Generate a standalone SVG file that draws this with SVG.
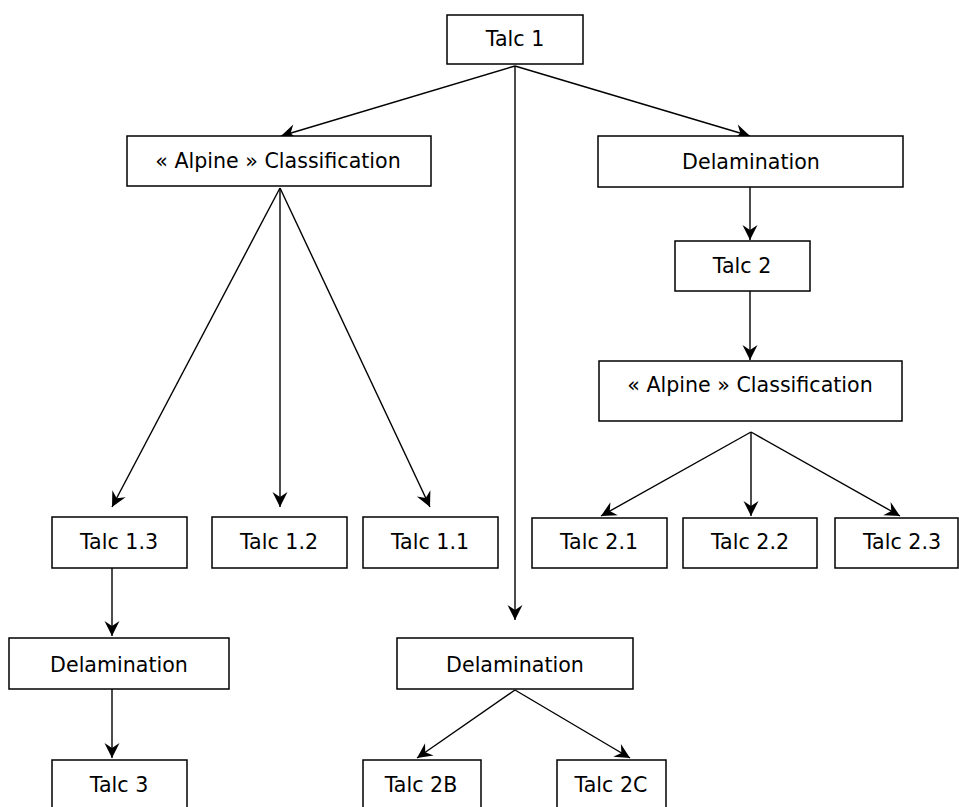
<svg xmlns="http://www.w3.org/2000/svg" width="959" height="807" viewBox="0 0 959 807">
<style>
.box{fill:#fff;stroke:#000;stroke-width:1.5}
.lbl{font-family:"DejaVu Sans","Verdana",sans-serif;font-size:20.6px;fill:#000;text-anchor:middle}
.edge{stroke:#000;stroke-width:1.4;fill:none;marker-end:url(#ah)}
</style>
<defs>
<marker id="ah" markerUnits="userSpaceOnUse" markerWidth="18" markerHeight="18" viewBox="-16 -9 18 18" refX="0" refY="0" orient="auto">
<path d="M0,0 L-15,-7.5 L-10,0 L-15,7.5 Z" fill="#000"/>
</marker>
</defs>
<rect width="959" height="807" fill="#fff"/>
<g id="connectors">
<line class="edge" x1="515" y1="66" x2="281" y2="136"/>
<line class="edge" x1="515" y1="66" x2="750" y2="136"/>
<line class="edge" x1="515" y1="66" x2="515" y2="620"/>
<line class="edge" x1="280" y1="188" x2="112" y2="507"/>
<line class="edge" x1="280" y1="188" x2="280" y2="507"/>
<line class="edge" x1="280" y1="188" x2="430" y2="507"/>
<line class="edge" x1="750" y1="187" x2="750" y2="240"/>
<line class="edge" x1="750" y1="291" x2="750" y2="360"/>
<line class="edge" x1="751" y1="432" x2="601" y2="516"/>
<line class="edge" x1="751" y1="432" x2="751" y2="516"/>
<line class="edge" x1="751" y1="432" x2="900" y2="516"/>
<line class="edge" x1="112" y1="568" x2="112" y2="636"/>
<line class="edge" x1="112" y1="689" x2="112" y2="758"/>
<line class="edge" x1="515" y1="690" x2="417" y2="758"/>
<line class="edge" x1="515" y1="690" x2="630" y2="758"/>
</g>
<g id="talc1"><rect class="box" x="447" y="15" width="136" height="49"/><text class="lbl" x="515" y="46">Talc 1</text></g>
<g id="alpine1"><rect class="box" x="127" y="136" width="304" height="50"/><text class="lbl" x="278" y="168">« Alpine » Classification</text></g>
<g id="delam1"><rect class="box" x="598" y="136" width="305" height="51"/><text class="lbl" x="751" y="169">Delamination</text></g>
<g id="talc2"><rect class="box" x="675" y="241" width="135" height="50"/><text class="lbl" x="742" y="273">Talc 2</text></g>
<g id="alpine2"><rect class="box" x="599" y="361" width="303" height="60"/><text class="lbl" x="750" y="392">« Alpine » Classification</text></g>
<g id="talc13"><rect class="box" x="52" y="517" width="135" height="51"/><text class="lbl" x="119" y="549">Talc 1.3</text></g>
<g id="talc12"><rect class="box" x="212" y="517" width="135" height="51"/><text class="lbl" x="279" y="549">Talc 1.2</text></g>
<g id="talc11"><rect class="box" x="363" y="517" width="135" height="51"/><text class="lbl" x="430" y="549">Talc 1.1</text></g>
<g id="talc21"><rect class="box" x="532" y="518" width="135" height="50"/><text class="lbl" x="599" y="549">Talc 2.1</text></g>
<g id="talc22"><rect class="box" x="683" y="518" width="134" height="50"/><text class="lbl" x="750" y="549">Talc 2.2</text></g>
<g id="talc23"><rect class="box" x="835" y="518" width="123" height="50"/><text class="lbl" x="902" y="549">Talc 2.3</text></g>
<g id="delam2"><rect class="box" x="9" y="638" width="220" height="51"/><text class="lbl" x="119" y="672">Delamination</text></g>
<g id="delam3"><rect class="box" x="397" y="638" width="236" height="51"/><text class="lbl" x="515" y="672">Delamination</text></g>
<g id="talc3"><rect class="box" x="52" y="760" width="135" height="60"/><text class="lbl" x="119" y="792">Talc 3</text></g>
<g id="talc2b"><rect class="box" x="363" y="760" width="118" height="60"/><text class="lbl" x="421" y="792">Talc 2B</text></g>
<g id="talc2c"><rect class="box" x="557" y="760" width="109" height="60"/><text class="lbl" x="611" y="792">Talc 2C</text></g>
</svg>
